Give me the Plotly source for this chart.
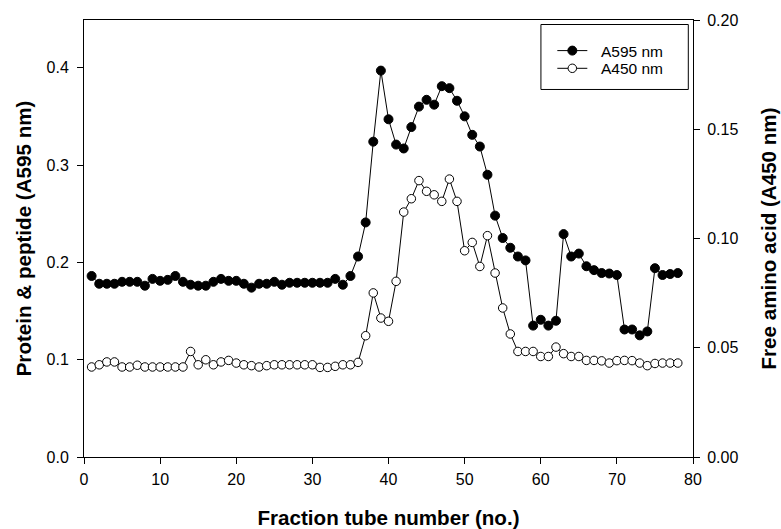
import plotly.graph_objects as go

# Fraction tube numbers
fractions = list(range(1, 79))

# Protein & peptide absorbance at 595 nm (left axis)
a595 = [
    0.186, 0.178, 0.178, 0.178, 0.180, 0.180, 0.180, 0.176, 0.183, 0.181,
    0.182, 0.186, 0.180, 0.177, 0.176, 0.176, 0.180, 0.183, 0.181, 0.181,
    0.178, 0.174, 0.178, 0.178, 0.180, 0.177, 0.179, 0.179, 0.179, 0.179,
    0.179, 0.179, 0.183, 0.177, 0.186, 0.206, 0.241, 0.324, 0.397, 0.347,
    0.321, 0.317, 0.339, 0.360, 0.367, 0.362, 0.381, 0.379, 0.366, 0.350,
    0.331, 0.319, 0.290, 0.248, 0.225, 0.215, 0.206, 0.202, 0.135, 0.141,
    0.135, 0.140, 0.229, 0.206, 0.209, 0.196, 0.192, 0.189, 0.1885, 0.187,
    0.131, 0.131, 0.125, 0.129, 0.194, 0.187, 0.188, 0.189,
]

# Free amino acid absorbance at 450 nm (right axis)
a450 = [
    0.0412, 0.0422, 0.0435, 0.0435, 0.0412, 0.0412, 0.0420, 0.0412, 0.0412, 0.0412,
    0.0412, 0.0412, 0.0412, 0.0483, 0.0422, 0.0445, 0.0422, 0.0435, 0.0442, 0.0430,
    0.0422, 0.0418, 0.0412, 0.0418, 0.0422, 0.0422, 0.0422, 0.0422, 0.0422, 0.0422,
    0.0410, 0.0410, 0.0415, 0.0422, 0.0422, 0.0433, 0.0555, 0.0751, 0.0636, 0.0621,
    0.0804, 0.1121, 0.1182, 0.1265, 0.1216, 0.1200, 0.1170, 0.1272, 0.1170, 0.0944,
    0.0982, 0.0872, 0.1013, 0.0842, 0.0682, 0.0563, 0.0483, 0.0483, 0.0483, 0.0460,
    0.0460, 0.0503, 0.0473, 0.0460, 0.0460, 0.0442, 0.0442, 0.0440, 0.0430, 0.0441,
    0.0442, 0.0441, 0.0430, 0.0418, 0.0428, 0.0430, 0.0430, 0.0430,
]

x_ticks = [0, 10, 20, 30, 40, 50, 60, 70, 80]
y_ticks = [0.0, 0.1, 0.2, 0.3, 0.4]
y2_ticks = [0.00, 0.05, 0.10, 0.15, 0.20]

FONT = "Liberation Sans, Arial, sans-serif"
TITLE_SIZE = 20.6
PAD = "\u00a0\u00a0"  # gap between legend symbol and label

fig = go.Figure()
fig.add_trace(go.Scatter(
    x=fractions, y=a595, name=PAD + "A595 nm", mode="lines+markers",
    line=dict(color="black", width=1),
    marker=dict(symbol="circle", size=9, color="black", line=dict(color="black", width=1)),
    yaxis="y", legend="legend",
))
fig.add_trace(go.Scatter(
    x=fractions, y=a450, name=PAD + "A450 nm", mode="lines+markers",
    line=dict(color="black", width=1),
    marker=dict(symbol="circle", size=8.5, color="white", line=dict(color="black", width=1)),
    yaxis="y2", legend="legend2",
))

axis_common = dict(
    showgrid=False, zeroline=False, showline=True, linecolor="black", linewidth=1,
    ticks="outside", ticklen=6, tickwidth=1, tickcolor="black", automargin=False,
    tickfont=dict(family=FONT, size=16, color="black"),
)

legend_common = dict(
    x=0.769, xanchor="left", yanchor="middle",
    bgcolor="rgba(0,0,0,0)", borderwidth=0,
    font=dict(family=FONT, size=15.5, color="black"),
    itemwidth=30,
)

fig.update_layout(
    width=781, height=529,
    margin=dict(l=84, r=88, t=20, b=72),
    paper_bgcolor="white", plot_bgcolor="white",
    font=dict(family=FONT, color="black"),
    xaxis=dict(
        **axis_common, range=[0, 80], tickvals=x_ticks, mirror=True,
        ticklabelstandoff=2,
        title=dict(text="<b>Fraction tube number (no.)</b>",
                   font=dict(family=FONT, size=TITLE_SIZE), standoff=23),
    ),
    yaxis=dict(
        **axis_common, range=[0, 0.449], tickvals=y_ticks, tickformat=".1f",
        ticklabelstandoff=5,
        title=dict(text="<b>Protein & peptide (A595 nm)</b>",
                   font=dict(family=FONT, size=TITLE_SIZE), standoff=9),
    ),
    yaxis2=dict(
        **axis_common, range=[0, 0.2], tickvals=y2_ticks, tickformat=".2f",
        overlaying="y", side="right", ticklabelstandoff=4,
        title=dict(text="<b>Free amino acid (A450 nm)</b>",
                   font=dict(family=FONT, size=TITLE_SIZE), standoff=24),
    ),
    legend=dict(**legend_common, y=0.929),
    legend2=dict(**legend_common, y=0.8885),
    shapes=[dict(
        type="rect", xref="paper", yref="paper",
        x0=0.7503, x1=0.9923, y0=0.841, y1=0.9897,
        line=dict(color="black", width=1), fillcolor="rgba(0,0,0,0)",
        layer="above",
    )],
    showlegend=True,
)

fig.write_html("out.html")
